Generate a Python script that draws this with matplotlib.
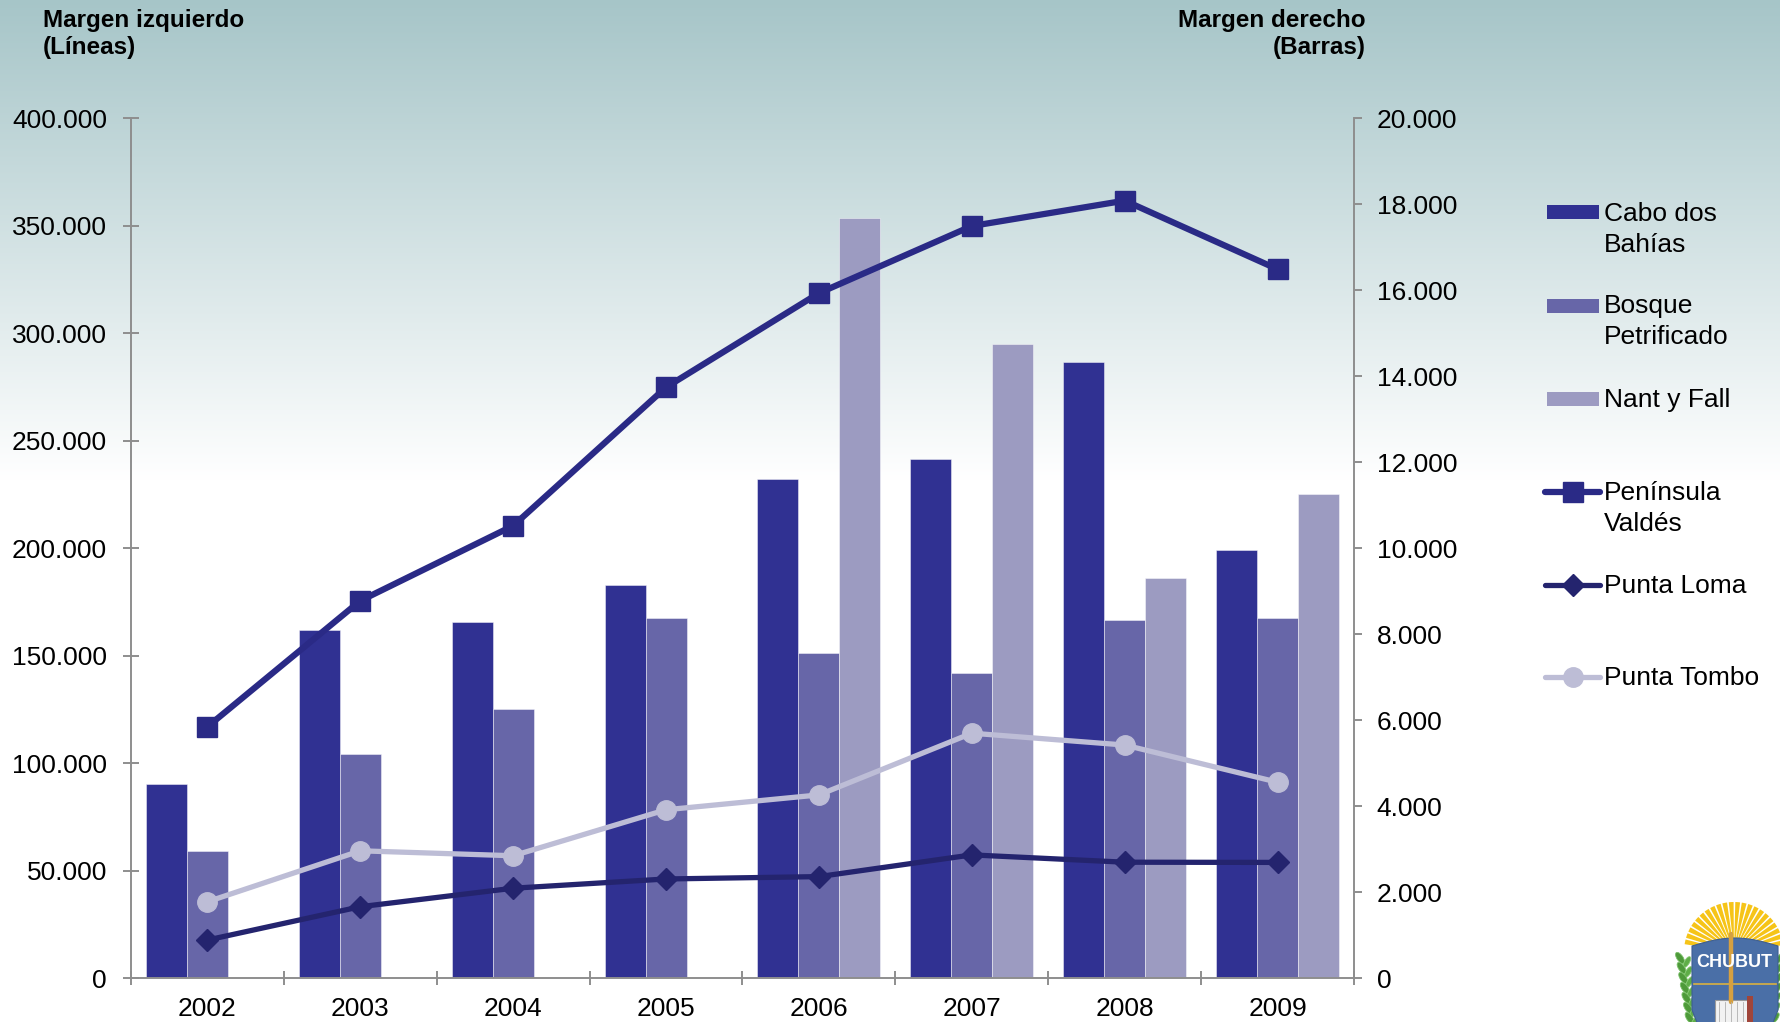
import numpy as np
import matplotlib
matplotlib.use("Agg")
import matplotlib.pyplot as plt
from matplotlib.ticker import FuncFormatter, FixedLocator
from matplotlib.patches import Rectangle, Wedge, Polygon, Ellipse
from matplotlib.lines import Line2D

plt.rcParams['font.family'] = ['Liberation Sans', 'DejaVu Sans']

# ---- data -------------------------------------------------------------
years = ['2002', '2003', '2004', '2005', '2006', '2007', '2008', '2009']

# bars (right axis)
cabo_dos_bahias = [4520, 8090, 8280, 9150, 11600, 12080, 14330, 9970]
bosque_petrificado = [2950, 5220, 6270, 8380, 7560, 7090, 8330, 8380]
nant_y_fall = [np.nan, np.nan, np.nan, np.nan, 17680, 14750, 9310, 11260]

# lines (left axis)
peninsula_valdes = [117000, 175600, 210500, 274900, 318700, 349900, 361700, 329800]
punta_loma = [17800, 33300, 41900, 46200, 47300, 57400, 54000, 53900]
punta_tombo = [35600, 59300, 57000, 78400, 85300, 114000, 108500, 91200]

left_ticks = list(range(0, 400001, 50000))
right_ticks = list(range(0, 20001, 2000))

# ---- style ------------------------------------------------------------
W, H = 1781, 1022
C_CABO = '#303192'
C_BOSQUE = '#6766A8'
C_NANT = '#9C9BC1'
C_VALDES = '#2A2A86'
C_LOMA = '#24246E'
C_TOMBO = '#BDBDD6'
AX_GREY = '#8E8E8E'
TICK_FS = 19
LEG_FS = 19
HEAD_FS = 17.5


def thousands(v, _pos=None):
    return f"{int(round(v)):,}".replace(',', '.')


fig = plt.figure(figsize=(W / 100, H / 100), dpi=100)

# background: teal-grey fading to white
bg = fig.add_axes([0, 0, 1, 1], zorder=-10)
rows = np.arange(H)
t = np.clip(rows / 480.0, 0, 1)[:, None]
top = np.array([166, 197, 200]) / 255.0
grad = top * (1 - t) + np.ones(3) * t
bg.imshow(grad[:, None, :], aspect='auto', extent=[0, 1, 0, 1], origin='upper')
bg.set_axis_off()

# main axes: bars on the right scale, lines on a twin with the left scale
x_left, x_right, y_top, y_bot = 131, 1354, 118.3, 978.3
ax = fig.add_axes([x_left / W, 1 - y_bot / H, (x_right - x_left) / W, (y_bot - y_top) / H])
ax.set_facecolor('none')
ax2 = ax.twinx()
ax2.set_facecolor('none')

x = np.arange(len(years))
bw = 0.268
bar_kw = dict(width=bw, edgecolor=(1, 1, 1, 0.45), linewidth=0.7, zorder=2)
ax.bar(x - bw, cabo_dos_bahias, color=C_CABO, **bar_kw)
ax.bar(x, bosque_petrificado, color=C_BOSQUE, **bar_kw)
nant = np.array(nant_y_fall, dtype=float)
ok = np.isfinite(nant)
ax.bar(x[ok] + bw, nant[ok], color=C_NANT, **bar_kw)

ax.set_xlim(-0.5, len(years) - 0.5)
ax.set_ylim(0, 20000)
ax.yaxis.tick_right()
ax.yaxis.set_major_locator(FixedLocator(right_ticks))
ax.yaxis.set_major_formatter(FuncFormatter(thousands))
ax.tick_params(axis='y', which='major', direction='out', length=5.8, width=1.4,
               color=AX_GREY, pad=10.5, labelsize=TICK_FS, labelcolor='black',
               left=False, labelleft=False, right=True, labelright=True)

ax.xaxis.set_major_locator(FixedLocator(np.arange(-0.5, len(years), 1.0)))
ax.xaxis.set_minor_locator(FixedLocator(x))
ax.xaxis.set_major_formatter(FuncFormatter(lambda v, p: ''))
ax.xaxis.set_minor_formatter(FuncFormatter(lambda v, p: years[int(round(v))]))
ax.tick_params(axis='x', which='major', direction='inout', length=9.4, width=1.4, color=AX_GREY)
ax.tick_params(axis='x', which='minor', length=0, pad=13.7, labelsize=TICK_FS, labelcolor='black')

for s in ['top', 'left']:
    ax.spines[s].set_visible(False)
for s in ['right', 'bottom']:
    ax.spines[s].set_color(AX_GREY)
    ax.spines[s].set_linewidth(1.4)

ax2.set_ylim(0, 400000)
ax2.yaxis.tick_left()
ax2.yaxis.set_major_locator(FixedLocator(left_ticks))
ax2.yaxis.set_major_formatter(FuncFormatter(thousands))
ax2.tick_params(axis='y', which='major', direction='inout', length=11, width=1.4,
                color=AX_GREY, pad=11.8, labelsize=TICK_FS, labelcolor='black',
                right=False, labelright=False, left=True, labelleft=True)
for s in ['top', 'right', 'bottom']:
    ax2.spines[s].set_visible(False)
ax2.spines['left'].set_visible(True)
ax2.spines['left'].set_color(AX_GREY)
ax2.spines['left'].set_linewidth(1.4)

ax2.plot(x, punta_tombo, color=C_TOMBO, lw=3.8, marker='o', ms=14, mec=C_TOMBO, zorder=3)
ax2.plot(x, punta_loma, color=C_LOMA, lw=3.8, marker='D', ms=11.5, mec=C_LOMA, zorder=4)
ax2.plot(x, peninsula_valdes, color=C_VALDES, lw=4.5, marker='s', ms=14, mec=C_VALDES, zorder=5)

# axis headers
fig.text(43 / W, 1 - 26.7 / H, 'Margen izquierdo', fontsize=HEAD_FS, fontweight='bold',
         ha='left', va='baseline')
fig.text(43 / W, 1 - 54 / H, '(Líneas)', fontsize=HEAD_FS, fontweight='bold',
         ha='left', va='baseline')
fig.text(1366 / W, 1 - 26.7 / H, 'Margen derecho', fontsize=HEAD_FS, fontweight='bold',
         ha='right', va='baseline')
fig.text(1366 / W, 1 - 54 / H, '(Barras)', fontsize=HEAD_FS, fontweight='bold',
         ha='right', va='baseline')

# legend panel (pixel coordinates, y down)
lg = fig.add_axes([1530 / W, 1 - 720 / H, 250 / W, 560 / H])
lg.set_xlim(1530, 1780)
lg.set_ylim(720, 160)
lg.set_axis_off()
lg.set_facecolor('none')

rect_entries = [
    (C_CABO, 205, ['Cabo dos', 'Bahías'], 221),
    (C_BOSQUE, 299, ['Bosque', 'Petrificado'], 313),
    (C_NANT, 392, ['Nant y Fall'], 406.7),
]
for col, ytop, lines, base in rect_entries:
    lg.add_patch(Rectangle((1547, ytop), 52, 14, facecolor=col, edgecolor='none'))
    for i, s in enumerate(lines):
        lg.text(1604, base + i * 31, s, fontsize=LEG_FS, ha='left', va='baseline')

line_entries = [
    (C_VALDES, 's', 14, 4.5, 491.7, ['Península', 'Valdés'], 500),
    (C_LOMA, 'D', 11.5, 3.8, 585, ['Punta Loma'], 592.7),
    (C_TOMBO, 'o', 14, 3.8, 677.3, ['Punta Tombo'], 685),
]
for col, mk, ms, lw, yc, lines, base in line_entries:
    lg.add_line(Line2D([1545, 1600], [yc, yc], color=col, lw=lw, solid_capstyle='round'))
    lg.add_line(Line2D([1572.5], [yc], color=col, marker=mk, ms=ms, mec=col, ls='none'))
    for i, s in enumerate(lines):
        lg.text(1604, base + i * 31, s, fontsize=LEG_FS, ha='left', va='baseline')

# provincial emblem in the corner
em = fig.add_axes([1660 / W, 0, 121 / W, 132 / H])
em.set_xlim(1660, 1781)
em.set_ylim(1022, 890)
em.set_axis_off()
em.set_facecolor('none')

# sun rays
cx, cy = 1734, 952
ang = 8
while ang < 172:
    em.add_patch(Wedge((cx, cy), 50, -(ang + 5.5), -ang, width=38,
                       facecolor='#F6C418', edgecolor='none'))
    ang += 7.5
# laurel leaves
for i in range(7):
    yy = 958 + i * 10
    em.add_patch(Ellipse((1680 + i * 1.6, yy), 6, 13, angle=-35,
                         facecolor='#4E9A3A', edgecolor='#7BC06A', lw=0.6))
    em.add_patch(Ellipse((1687 + i * 1.3, yy + 4), 5, 12, angle=30,
                         facecolor='#5FAE48', edgecolor='#8ACB78', lw=0.6))
    em.add_patch(Ellipse((1780 - i * 0.8, yy), 5, 12, angle=35,
                         facecolor='#4E9A3A', edgecolor='#7BC06A', lw=0.6))
# shield
sx = np.linspace(1692, 1778, 30)
top_edge = 946 - 8 * np.sin(np.pi * (sx - 1692) / 86)
shield = list(zip(sx, top_edge)) + [(1778, 1010), (1770, 1030), (1735, 1045),
                                       (1700, 1030), (1692, 1010)]
em.add_patch(Polygon(shield, closed=True, facecolor='#4A6FA7', edgecolor='#3D5E92', lw=0.8))
em.plot([1694, 1776], [984, 984], color='#D9B040', lw=1.2)
em.plot([1731, 1731], [934, 1002], color='#D6A040', lw=3.2, solid_capstyle='round')
em.text(1734, 962, 'CHUBUT', color='white', fontsize=13, fontweight='bold',
        ha='center', va='center')
em.add_patch(Rectangle((1715, 1000), 34, 24, facecolor='#F2F2F2', edgecolor='#9A9A9A', lw=0.8))
for k in range(5):
    em.plot([1719 + k * 6, 1719 + k * 6], [1002, 1022], color='#B0B0B0', lw=0.6)
em.add_patch(Rectangle((1747, 996), 6, 26, facecolor='#A0453A', edgecolor='none'))

fig.savefig('out.png', dpi=100)
